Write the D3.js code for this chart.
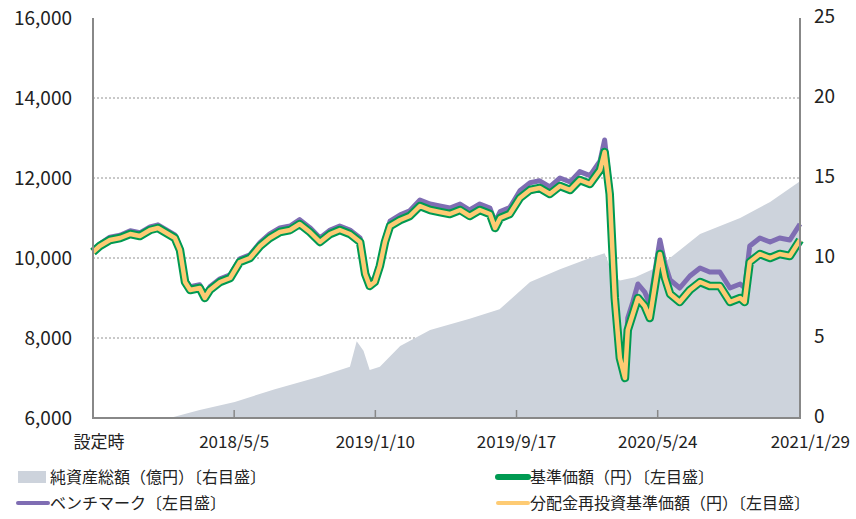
<!DOCTYPE html>
<html><head><meta charset="utf-8">
<script src="https://cdn.jsdelivr.net/npm/d3@7"></script>
<style>body{margin:0;background:#fff}text{font-family:"Noto Sans CJK JP","Noto Sans",sans-serif;fill:#222}</style>
</head><body><svg id="c" width="856" height="519"></svg>
<script>
const fundDays=[0,12,30,48,66,83,101,115,127,145,154,163,172,189,198,207,225,243,260,278,296,313,331,349,366,384,402,420,437,455,473,482,490,499,508,517,526,544,561,579,597,614,632,650,667,685,703,712,721,738,756,774,791,809,827,845,862,880,898,906,915,924,933,942,947,956,965,977,986,995,1004,1013,1022,1039,1057,1075,1092,1110,1128,1146,1154,1163,1181,1199,1216,1234,1252];
const fundValues=[10150,10300,10450,10500,10600,10550,10700,10750,10650,10500,10200,9400,9200,9250,9000,9200,9400,9500,9900,10000,10300,10500,10650,10700,10850,10650,10400,10600,10700,10600,10400,9600,9300,9400,9800,10400,10800,10950,11050,11300,11200,11150,11100,11200,11050,11200,11100,10750,11000,11100,11500,11700,11750,11600,11800,11700,11950,11850,12200,12650,11600,9000,7500,7000,8200,8600,9000,8800,8500,9300,10100,9500,9100,8900,9200,9400,9300,9300,8900,9000,8900,9900,10100,10000,10100,10050,10450];
const benchValues=[10200,10350,10520,10570,10680,10630,10780,10830,10730,10580,10280,9480,9280,9330,9080,9280,9480,9580,9980,10080,10390,10600,10750,10800,10960,10760,10500,10700,10800,10700,10500,9700,9400,9500,9900,10500,10920,11080,11180,11450,11350,11300,11250,11350,11200,11350,11250,10900,11160,11260,11680,11880,11930,11780,12000,11900,12160,12060,12430,12950,11850,9200,7800,7300,8500,8900,9350,9150,8850,9650,10450,9850,9450,9250,9550,9750,9650,9650,9250,9350,9250,10300,10500,10400,10500,10450,10850];
const navDays=[0,136,189,251,322,402,455,467,479,490,508,544,597,667,720,774,827,880,906,915,924,933,960,1004,1075,1146,1199,1252];
const navValues=[0,0,0.5,1.0,1.8,2.6,3.2,4.8,4.2,3.0,3.2,4.5,5.5,6.2,6.8,8.5,9.3,10.0,10.3,9.5,8.8,8.6,8.8,9.5,11.5,12.5,13.5,14.8];
const tickDays=[0,250,500,750,1000,1252];
const tickLabels=["設定時","2018/5/5","2019/1/10","2019/9/17","2020/5/24","2021/1/29"];
const leftTicks=[6000,8000,10000,12000,14000,16000];
const rightTicks=[0,5,10,15,20,25];

const svg=d3.select("#c");
const L=93,R=800,T=18,B=418;
const x=d3.scaleLinear().domain([0,1252]).range([L,R]);
const y=d3.scaleLinear().domain([6000,16000]).range([B,T]);
const y2=d3.scaleLinear().domain([0,25]).range([B,T]);
svg.selectAll(".g").data(leftTicks.slice(1,5)).enter().append("line")
 .attr("x1",L).attr("x2",R).attr("y1",d=>y(d)).attr("y2",d=>y(d))
 .attr("stroke","#777").attr("stroke-dasharray","2,2").attr("stroke-width",0.8);
const nav=navDays.map((d,i)=>[d,navValues[i]]);
svg.append("path").datum(nav).attr("fill","#cdd3dc")
 .attr("d",d3.area().x(d=>x(d[0])).y0(B).y1(d=>y2(d[1])));
const line=d3.line().x(d=>x(d[0])).y(d=>y(d[1]));
const bench=fundDays.map((d,i)=>[d,benchValues[i]]);
const fund=fundDays.map((d,i)=>[d,fundValues[i]]);
svg.append("path").datum(bench).attr("d",line).attr("fill","none").attr("stroke","#7f6db3").attr("stroke-width",5).attr("stroke-linejoin","round");
svg.append("path").datum(fund).attr("d",line).attr("fill","none").attr("stroke","#009a52").attr("stroke-width",8.5).attr("stroke-linejoin","round");
svg.append("path").datum(fund).attr("d",line).attr("fill","none").attr("stroke","#fecb73").attr("stroke-width",4.5).attr("stroke-linejoin","round");
svg.append("path").attr("d",`M${L},${T}V${B}H${R}V${T}`).attr("fill","none").attr("stroke","#888").attr("stroke-width",2);
svg.selectAll(".lt").data(leftTicks).enter().append("text").attr("x",72).attr("y",d=>y(d)+7)
 .attr("text-anchor","end").attr("font-size",19).text(d=>d3.format(",")(d));
svg.selectAll(".rt").data(rightTicks).enter().append("text").attr("x",814).attr("y",d=>y2(d)+5)
 .attr("font-size",19).text(d=>d);
svg.selectAll(".xt").data(tickDays.slice(1,5)).enter().append("line").attr("x1",d=>x(d)).attr("x2",d=>x(d))
 .attr("y1",B).attr("y2",B-8).attr("stroke","#888").attr("stroke-width",1.5);
svg.selectAll(".xl").data(tickDays).enter().append("text").attr("x",d=>x(d)).attr("y",448)
 .attr("text-anchor",(d,i)=>i==5?"end":"middle").attr("font-size",17)
 .attr("dx",(d,i)=>i==0?6:(i==5?50:0)).text((d,i)=>tickLabels[i]);
const lg=[{t:"純資産総額（億円）〔右目盛〕",x:18,y:477,k:"rect"},{t:"基準価額（円）〔左目盛〕",x:498,y:477,k:"g"},
 {t:"ベンチマーク〔左目盛〕",x:18,y:503,k:"p"},{t:"分配金再投資基準価額（円）〔左目盛〕",x:498,y:503,k:"y"}];
lg.forEach(o=>{
 if(o.k=="rect")svg.append("rect").attr("x",o.x).attr("y",o.y-6).attr("width",28).attr("height",12).attr("fill","#cdd3dc");
 else svg.append("line").attr("x1",o.x).attr("x2",o.x+30).attr("y1",o.y).attr("y2",o.y)
  .attr("stroke",o.k=="g"?"#009a52":o.k=="p"?"#7f6db3":"#fecb73").attr("stroke-width",o.k=="g"?6:4).attr("stroke-linecap","round");
 svg.append("text").attr("x",o.x+32).attr("y",o.y+6).attr("font-size",16).text(o.t);
});
</script></body></html>
